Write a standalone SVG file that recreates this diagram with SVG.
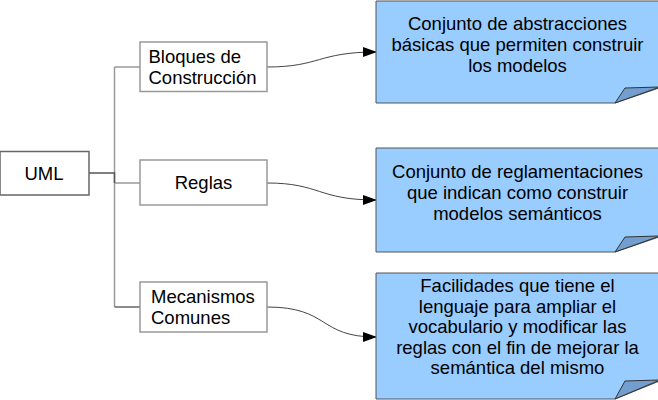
<svg xmlns="http://www.w3.org/2000/svg" width="658" height="400" viewBox="0 0 658 400">
<style>
.box{fill:#fff;stroke:#999;stroke-width:1.5}
.note{fill:#99ccff;stroke:#555;stroke-width:1}
.fold{fill:#729fcf;stroke:#333;stroke-width:1}
.t{font-family:"Liberation Sans",Arial,sans-serif;font-size:18.5px;fill:#000}
.c{text-anchor:middle}
.tree{fill:none;stroke:#999;stroke-width:1.5}
.arr{fill:none;stroke:#444;stroke-width:1}
</style>
<defs>
<marker id="ah" markerWidth="14" markerHeight="10" refX="13" refY="5" orient="auto" markerUnits="userSpaceOnUse">
<path d="M0,0 L14,5 L0,10 Z" fill="#000"/>
</marker>
</defs>
<g id="connectors">
<path class="tree" d="M114.5,67 V307"/>
<path class="tree" d="M114.5,67 H140"/>
<path class="tree" d="M114.5,183 H140"/>
<path class="tree" d="M114.5,307 H140" style="stroke:#666"/>
<path d="M89,173 H114.5 V183" fill="none" stroke="#555" stroke-width="1.5"/>
<path class="arr" d="M267,67 C320,67 318,52 376,52" marker-end="url(#ah)"/>
<path class="arr" d="M267,183 C320,183 318,200 376,200" marker-end="url(#ah)"/>
<path class="arr" d="M267,307 C330,307 318,337 376,337" marker-end="url(#ah)"/>
</g>
<g id="uml">
<rect class="box" x="0" y="151.5" width="89" height="43.5" style="stroke:#666"/>
<text class="t c" x="44" y="180">UML</text>
</g>
<g id="bloques">
<rect class="box" x="140" y="42" width="127" height="49.5"/>
<text class="t" x="148.5" y="63">Bloques de</text>
<text class="t" x="148.5" y="84">Construcción</text>
</g>
<g id="reglas">
<rect class="box" x="140" y="160" width="127" height="45"/>
<text class="t c" x="203.5" y="189">Reglas</text>
</g>
<g id="mecanismos">
<rect class="box" x="140" y="282" width="127" height="50"/>
<text class="t" x="151" y="302.5">Mecanismos</text>
<text class="t" x="151" y="323.5">Comunes</text>
</g>
<g id="note1">
<path class="note" d="M376,1 H662 V87 L615,103 H376 Z"/>
<path class="fold" d="M615,103 L625,88 L660,87 Z"/>
<text class="t c" x="517.5" y="30">Conjunto de abstracciones</text>
<text class="t c" x="517.5" y="51">básicas que permiten construir</text>
<text class="t c" x="517.5" y="72">los modelos</text>
</g>
<g id="note2">
<path class="note" d="M376,148 H662 V236 L615,252 H376 Z"/>
<path class="fold" d="M615,252 L625,237 L660,236 Z"/>
<text class="t c" x="517.5" y="178">Conjunto de reglamentaciones</text>
<text class="t c" x="517.5" y="199">que indican como construir</text>
<text class="t c" x="517.5" y="220">modelos semánticos</text>
</g>
<g id="note3">
<path class="note" d="M376,273 H662 V380 L615,399 H376 Z"/>
<path class="fold" d="M615,399 L625,381 L660,380 Z"/>
<text class="t c" x="517.5" y="292">Facilidades que tiene el</text>
<text class="t c" x="517.5" y="312.5">lenguaje para ampliar el</text>
<text class="t c" x="517.5" y="333">vocabulario y modificar las</text>
<text class="t c" x="517.5" y="353.5">reglas con el fin de mejorar la</text>
<text class="t c" x="517.5" y="374">semántica del mismo</text>
</g>
</svg>
